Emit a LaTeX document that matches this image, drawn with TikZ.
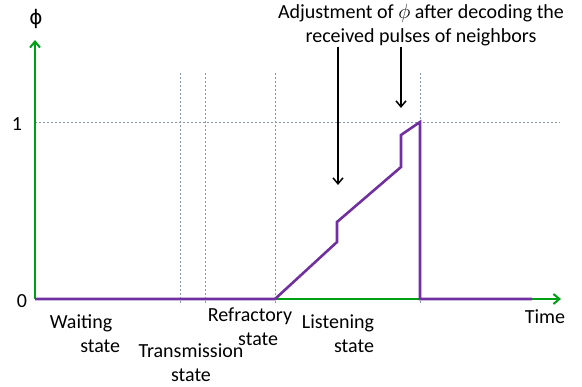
\documentclass[tikz,border=0pt]{standalone}
\usepackage{fontspec}
\setmainfont{Carlito}
\newfontfamily\phifont{DejaVu Sans}
\usetikzlibrary{arrows.meta}
\definecolor{axisgreen}{RGB}{0,160,20}
\definecolor{phipurple}{RGB}{112,48,160}
\definecolor{gridgray}{RGB}{132,151,176}
\tikzset{every node/.style={font=\fontsize{20}{24}\selectfont}}

\begin{document}
\begin{tikzpicture}[x=1pt,y=-1pt,
            axis/.style={draw=axisgreen,line width=2pt,-{Straight Barb[length=6pt,width=10pt]}},
            guide/.style={draw=gridgray,line width=0.6pt,dash pattern=on 2pt off 2pt},
            phase/.style={draw=phipurple,line width=2.6pt},
            pointer/.style={draw,line width=1.5pt,-{Straight Barb[length=6pt,width=10pt]}},
            lbl/.style={inner sep=0pt}
            ]
            \useasboundingbox (0,0) rectangle (582,387);
            % guide lines
            \draw[guide] (35,122) -- (560,122);
            \foreach \gx in {180,205,275,420}
                \draw[guide] (\gx,73) -- (\gx,305);
            % axes
            \coordinate (origin) at (35,299);
            \coordinate (ytip) at (35,40);
            \coordinate (xtip) at (561,299);
            \draw[axis] (origin) -- (ytip);
            \draw[axis] (origin) -- (xtip);
            % phase curve
            \coordinate (rise) at (275,299);
            \coordinate (knee1) at (337,242);
            \coordinate (jump1) at (337,222);
            \coordinate (knee2) at (401,167);
            \coordinate (jump2) at (401,135);
            \coordinate (peak) at (420,122);
            \coordinate (reset) at (420,299);
            \coordinate (tail) at (532,299);
            \draw[phase] (origin) -- (rise) -- (knee1) -- (jump1) -- (knee2)
                -- (jump2) -- (peak) -- (reset) -- (tail);
            % axis labels
            \node[lbl] (phi) at (36,19) {\phifont ϕ};
            \node[lbl] (one) at (17,124) {1};
            \node[lbl] (zero) at (22,301) {0};
            \node[lbl] (time) at (545,317) {Time};
            % states
            \node[lbl,align=right] (waiting) at (85,334) {Waiting\hspace*{8pt}\\state};
            \node[lbl,align=center] (transmission) at (191,363) {Transmission\\state};
            \node[lbl,align=right] (refractory) at (250,327) {Refractory\\state\hspace*{14pt}};
            \node[lbl,align=right] (listening) at (338,334) {Listening\\state};
            % note and pointers
            \node[lbl,align=center] (note) at (421,25) {Adjustment of $\phi$ after decoding the\\received pulses of neighbors};
            \coordinate (from1) at (338,47);
            \coordinate (to1) at (338,185);
            \coordinate (from2) at (401,47);
            \coordinate (to2) at (401,108);
            \draw[pointer] (from1) -- (to1);
            \draw[pointer] (from2) -- (to2);
\end{tikzpicture}
\end{document}
